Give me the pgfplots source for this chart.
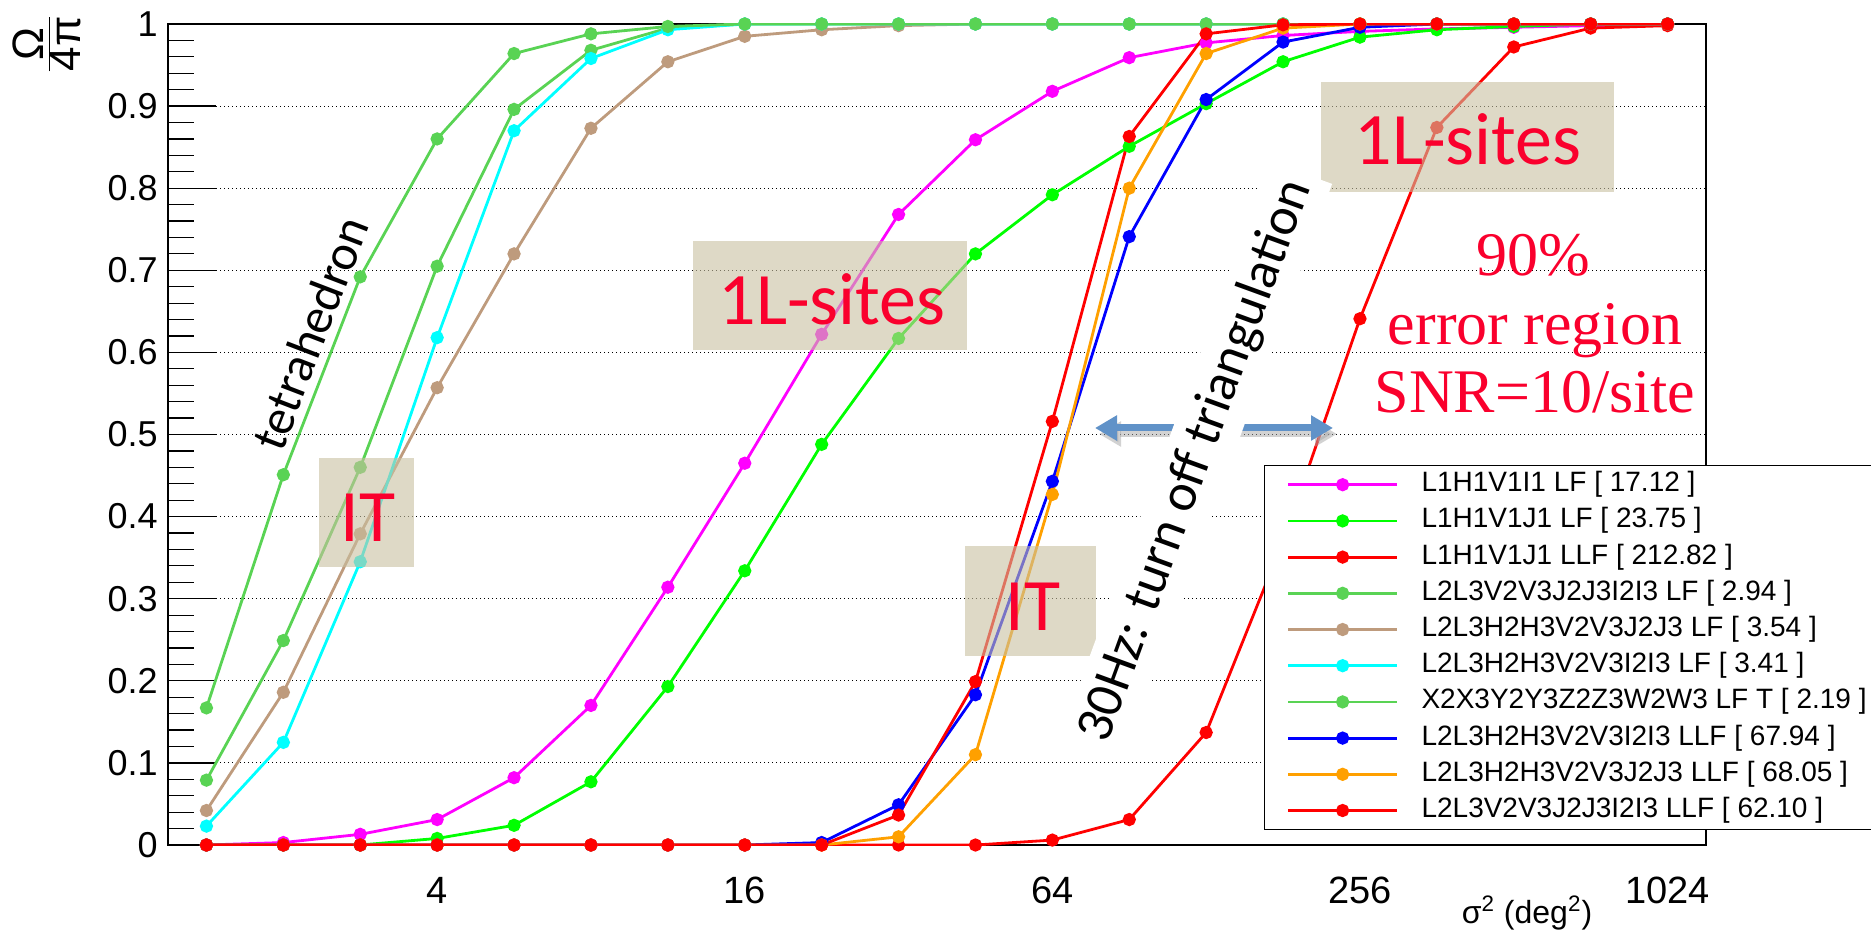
\documentclass[border=0pt]{standalone}
\usepackage{fontspec}
\setmainfont{Liberation Sans}
\newfontfamily\calib{Carlito}
\newfontfamily\tms{Liberation Serif}
\usepackage{pgfplots}
\usepackage{pgfplotstable}
\pgfplotsset{compat=1.18}
\usetikzlibrary{arrows.meta}

\definecolor{rootgreen}{RGB}{89,211,84}
\definecolor{mymagenta}{RGB}{255,0,255}
\definecolor{mygreen}{RGB}{0,255,0}
\definecolor{myred}{RGB}{255,0,0}
\definecolor{mycyan}{RGB}{0,255,255}
\definecolor{myblue}{RGB}{0,0,255}
\definecolor{mybrown}{RGB}{190,155,125}
\definecolor{myorange}{RGB}{255,160,0}
\definecolor{boxfill}{RGB}{200,192,160}
\definecolor{annred}{RGB}{250,0,45}
\definecolor{arrowblue}{RGB}{96,146,200}

% i = bin index, sigma2 = 2^(i/2) deg^2
\pgfplotstableread{
i sigma2 M G R1 G2 Br Cy Te Bl Or R2
1 1.4142 0 0 0 0.079 0.042 0.023 0.167 0 0 0
2 2 0.003 0 0 0.249 0.186 0.125 0.451 0 0 0
3 2.8284 0.013 0 0 0.460 0.379 0.345 0.692 0 0 0
4 4 0.031 0.008 0 0.705 0.557 0.618 0.860 0 0 0
5 5.6569 0.082 0.024 0 0.896 0.720 0.870 0.964 0 0 0
6 8 0.170 0.077 0 0.968 0.873 0.958 0.988 0 0 0
7 11.314 0.314 0.193 0 0.995 0.954 0.993 0.997 0 0 0
8 16 0.465 0.334 0 1 0.985 1 1 0 0 0
9 22.627 0.622 0.488 0 1 0.993 1 1 0.003 0 0
10 32 0.768 0.617 0 1 0.998 1 1 0.049 0.010 0.0365
11 45.255 0.859 0.720 0 1 1 1 1 0.183 0.110 0.199
12 64 0.918 0.792 0.006 1 1 1 1 0.443 0.427 0.516
13 90.51 0.959 0.851 0.031 1 1 1 1 0.741 0.800 0.863
14 128 0.977 0.903 0.137 1 1 1 1 0.908 0.964 0.988
15 181.02 0.986 0.954 0.370 1 1 1 1 0.978 0.995 0.999
16 256 0.991 0.984 0.641 1 1 1 1 0.996 1 1
17 362.04 0.994 0.993 0.874 1 1 1 1 1 1 1
18 512 0.996 0.997 0.972 1 1 1 1 1 1 1
19 724.08 0.998 1 0.995 1 1 1 1 1 1 1
20 1024 1 1 0.998 1 1 1 1 1 1 1
}\data

\begin{document}
\begin{tikzpicture}
\path[use as bounding box] (0,0) rectangle (935.5pt,466pt);
\begin{axis}[
  scale only axis, width=769pt, height=410.5pt,
  at={(84pt,43.5pt)}, anchor=south west,
  xmin=0.5, xmax=20.5, ymin=0, ymax=1,
  axis line style={line width=0.9pt, black},
  tick align=inside, tick pos=left,
  tick style={black, line width=0.6pt},
  major tick length=24pt, minor tick length=13pt,
  ytick={0,0.1,0.2,0.3,0.4,0.5,0.6,0.7,0.8,0.9,1},
  minor y tick num=4,
  /pgf/number format/assume math mode=true,
  /pgf/number format/fixed, /pgf/number format/precision=1,
  yticklabel style={anchor=east, inner sep=0pt, xshift=-5pt, font=\fontsize{18}{20}\selectfont},
  xtick=\empty,
  minor xtick={1.5,2.5,3.5,4.5,5.5,6.5,7.5,8.5,9.5,10.5,11.5,12.5,13.5,14.5,15.5,16.5,17.5,18.5,19.5},
  extra x ticks={4,8,12,16,20},
  extra x tick labels={4,16,64,256,1024},
  extra x tick style={major tick length=0pt, grid=none},
  xticklabel style={anchor=north, inner sep=0pt, yshift=-16pt, font=\fontsize{19}{21}\selectfont},
  ymajorgrids=true,
  major grid style={black, line width=0.5pt, dash pattern=on 0.6pt off 1.4pt},
  legend style={at={(0.7126,0.4629)}, anchor=north west, draw=black, line width=0.75pt, fill=white,
    inner xsep=11pt, inner ysep=3pt, font=\fontsize{14}{16}\selectfont,
    row sep=5.1pt, column sep=11.5pt,
    nodes={inner sep=0pt, text height=10pt, text depth=3pt}},
  legend cell align=left,
  legend image code/.code={\draw[mark repeat=2,mark phase=2,#1] plot coordinates {(0pt,0pt) (27.25pt,0pt) (54.5pt,0pt)};},
  every axis plot/.append style={line width=1.4pt, mark=*, mark size=2.6pt, mark options={solid}},
]
\addplot[color=mymagenta] table[x=i,y=M]{\data};
\addlegendentry{L1H1V1I1 LF [ 17.12 ]}
\addplot[color=mygreen] table[x=i,y=G]{\data};
\addlegendentry{L1H1V1J1 LF [ 23.75 ]}
\addplot[color=myred] table[x=i,y=R1]{\data};
\addlegendentry{L1H1V1J1 LLF [ 212.82 ]}
\addplot[color=rootgreen] table[x=i,y=G2]{\data};
\addlegendentry{L2L3V2V3J2J3I2I3 LF [ 2.94 ]}
\addplot[color=mybrown] table[x=i,y=Br]{\data};
\addlegendentry{L2L3H2H3V2V3J2J3 LF [ 3.54 ]}
\addplot[color=mycyan] table[x=i,y=Cy]{\data};
\addlegendentry{L2L3H2H3V2V3I2I3 LF [ 3.41 ]}
\addplot[color=rootgreen] table[x=i,y=Te]{\data};
\addlegendentry{X2X3Y2Y3Z2Z3W2W3 LF T [ 2.19 ]}
\addplot[color=myblue] table[x=i,y=Bl]{\data};
\addlegendentry{L2L3H2H3V2V3I2I3 LLF [ 67.94 ]}
\addplot[color=myorange] table[x=i,y=Or]{\data};
\addlegendentry{L2L3H2H3V2V3J2J3 LLF [ 68.05 ]}
\addplot[color=myred] table[x=i,y=R2]{\data};
\addlegendentry{L2L3V2V3J2J3I2I3 LLF [ 62.10 ]}
\end{axis}

\begin{scope}[x=0.5pt,y=-0.5pt,yshift=466pt]
  % axis labels
  \node[rotate=90, font=\fontsize{22}{24}\selectfont] at (47,44) {$\frac{\mbox{Ω}}{\mbox{4π}}$};
  \node[font=\fontsize{16}{18}\selectfont] at (1527,913) {σ\textsuperscript{2} (deg\textsuperscript{2})};
  % tan boxes
  \fill[boxfill, fill opacity=0.6] (693,241) rectangle (967,350);
  \fill[boxfill, fill opacity=0.6] (1321,82) rectangle (1614,192);
  \fill[boxfill, fill opacity=0.6] (319,458) rectangle (414,567);
  \fill[boxfill, fill opacity=0.6] (965,546) rectangle (1096,656);
  % red labels
  \node[anchor=base, text=annred, font=\calib\fontsize{37}{40}\selectfont] at (832,325) {1L-sites};
  \node[anchor=base, text=annred, font=\calib\fontsize{37}{40}\selectfont] at (1468,165) {1L-sites};
  \node[anchor=base, text=annred, font=\calib\fontsize{37}{40}\selectfont] at (368,542) {IT};
  \node[anchor=base, text=annred, font=\calib\fontsize{37}{40}\selectfont] at (1033,630) {IT};
  \node[anchor=base, text=annred, font=\tms\fontsize{31}{34}\selectfont] at (1533,276) {90\%};
  \node[anchor=base, text=annred, font=\tms\fontsize{31}{34}\selectfont] at (1535,345) {error region};
  \node[anchor=base, text=annred, font=\tms\fontsize{31}{34}\selectfont] at (1535,413) {SNR=10/site};
  % arrow with soft shadow
  \draw[black!35, opacity=0.5, line width=3.5pt, {Triangle[length=11pt,width=12pt]}-{Triangle[length=11pt,width=12pt]}] (1099,434) -- (1337,434);
  \draw[arrowblue, line width=3.5pt, {Triangle[length=11pt,width=12pt]}-{Triangle[length=11pt,width=12pt]}] (1095,428) -- (1333,428);
  % rotated black texts
  \node[rotate=69, font=\calib\fontsize{25}{30}\selectfont] at (310,333) {tetrahedron};
  \node[fill=white, inner sep=5pt, rotate=70, font=\calib\fontsize{26.7}{30}\selectfont] at (1196,461) {30Hz: turn off triangulation};
\end{scope}
\end{tikzpicture}
\end{document}
